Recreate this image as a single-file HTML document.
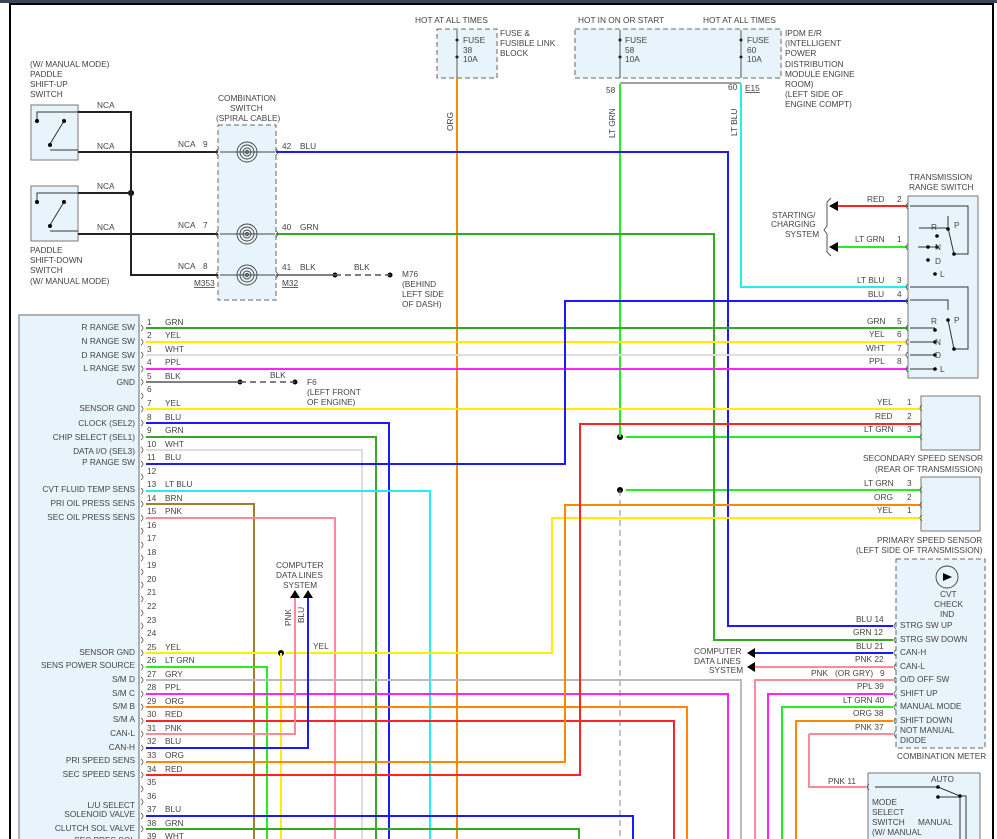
<!DOCTYPE html>
<html><head><meta charset="utf-8"><style>
html,body{margin:0;padding:0;background:#fff;}
svg{display:block;font-family:"Liberation Sans",sans-serif;}
text{font-size:8.3px;fill:#444;}
.w{fill:none;stroke-width:2;}
</style></head><body>
<svg width="997" height="839" viewBox="0 0 997 839">
<rect x="0" y="0" width="997" height="3" fill="#3a4658"/>
<path d="M10,839 V4 H993 V839" fill="none" stroke="#000" stroke-width="2"/>

<!-- boxes -->
<rect x="19" y="315" width="120" height="530" fill="#e8f4fb" stroke="#999" stroke-width="1.5"/>
<rect x="31" y="105" width="47" height="55" fill="#e8f4fb" stroke="#777"/>
<rect x="31" y="186" width="47" height="55" fill="#e8f4fb" stroke="#777"/>
<rect x="218" y="125" width="58" height="175" fill="#e8f4fb" stroke="#666" stroke-dasharray="5,3"/>
<rect x="437" y="29" width="60" height="49" fill="#e8f4fb" stroke="#666" stroke-dasharray="5,3"/>
<rect x="575" y="29" width="206" height="49" fill="#e8f4fb" stroke="#666" stroke-dasharray="5,3"/>
<rect x="908" y="196" width="70" height="182" fill="#e8f4fb" stroke="#777"/>
<rect x="921" y="396" width="59" height="54" fill="#e8f4fb" stroke="#777"/>
<rect x="921" y="477" width="59" height="54" fill="#e8f4fb" stroke="#777"/>
<rect x="896" y="559" width="89" height="189" fill="#e8f4fb" stroke="#666" stroke-dasharray="5,3"/>
<rect x="868" y="773" width="112" height="70" fill="#e8f4fb" stroke="#777"/>

<!-- switch internals -->
<g stroke="#333" fill="none" stroke-width="1">
<path d="M78,112 H37 V121"/><path d="M50,150 H78"/><path d="M50,144 L64,121"/>
<path d="M78,193 H37 V202"/><path d="M50,231 H78"/><path d="M50,225 L64,202"/>
<path d="M910,206 H968 V254 H954 M918,247 H928 M918,247 H937"/>
<path d="M919,228 H948 V216"/><path d="M948,228 L954,254"/>
<path d="M910,287 H968 V349 H954 M948,310 V300 H910"/><path d="M948,320 L954,349"/>
<path d="M910,328 H935 M910,342 H935 M910,355 H935 M910,369 H935"/>
<path d="M875,787 H938 L960,796 H966 V839 M938,797 H960 V839"/>
</g>
<g fill="#000">
<circle cx="37" cy="121" r="2"/><circle cx="64" cy="121" r="2"/><circle cx="50" cy="145" r="2"/>
<circle cx="37" cy="202" r="2"/><circle cx="64" cy="202" r="2"/><circle cx="50" cy="226" r="2"/>
<circle cx="937" cy="236" r="1.8"/><circle cx="948" cy="229" r="1.8"/><circle cx="928" cy="247" r="1.8"/><circle cx="937" cy="247" r="1.8"/><circle cx="954" cy="254" r="1.8"/><circle cx="928" cy="260" r="1.8"/><circle cx="935" cy="274" r="1.8"/>
<circle cx="935" cy="330" r="1.8"/><circle cx="948" cy="320" r="1.8"/><circle cx="935" cy="342" r="1.8"/><circle cx="935" cy="355" r="1.8"/><circle cx="935" cy="369" r="1.8"/><circle cx="954" cy="349" r="1.8"/>
<circle cx="938" cy="787" r="1.8"/><circle cx="960" cy="796" r="1.8"/><circle cx="938" cy="797" r="1.8"/>
<circle cx="131" cy="193" r="3"/>
<circle cx="281" cy="653" r="3"/>
<circle cx="620" cy="437" r="3"/><circle cx="620" cy="490" r="3"/>
<circle cx="240" cy="382" r="2.5"/><circle cx="295" cy="382" r="2.5"/>
<circle cx="335" cy="275" r="2.5"/><circle cx="390" cy="275" r="2.5"/>
<circle cx="457" cy="40" r="1.5"/><circle cx="457" cy="57" r="1.5"/>
<circle cx="620" cy="40" r="1.5"/><circle cx="620" cy="57" r="1.5"/>
<circle cx="741" cy="40" r="1.5"/><circle cx="741" cy="57" r="1.5"/>
</g>

<!-- spirals -->
<g fill="none" stroke="#444" stroke-width="0.9">
<circle cx="247" cy="152" r="10"/><circle cx="247" cy="152" r="7"/><circle cx="247" cy="152" r="4"/><circle cx="247" cy="152" r="1.5"/>
<circle cx="247" cy="234" r="10"/><circle cx="247" cy="234" r="7"/><circle cx="247" cy="234" r="4"/><circle cx="247" cy="234" r="1.5"/>
<circle cx="247" cy="275" r="10"/><circle cx="247" cy="275" r="7"/><circle cx="247" cy="275" r="4"/><circle cx="247" cy="275" r="1.5"/>
<path d="M220,152 H275 M220,234 H275 M220,275 H275"/>
<circle cx="947" cy="577" r="11"/>
<path d="M457,30 V78 M620,30 V78 M741,30 V78 M620,83 H741" />
</g>

<!-- black wires -->
<g class="w" stroke="#222">
<path d="M78,112 H131 V275 H218"/><path d="M78,152 H218"/><path d="M78,193 H131"/><path d="M78,234 H218"/>
</g>
<path d="M276,275 H335" stroke="#555" stroke-width="1.5"/>
<path d="M335,275 H390" stroke="#555" stroke-width="1.5" stroke-dasharray="6,4"/>
<path d="M146,382 H240" stroke="#555" stroke-width="1.5"/>
<path d="M240,382 H295" stroke="#555" stroke-width="1.5" stroke-dasharray="6,4"/>
<path d="M620,490 V839" stroke="#888" stroke-width="1" stroke-dasharray="6,4"/>

<!-- colored wires -->
<g class="w">
<path stroke="#ff8800" d="M457,78 V839"/>
<path stroke="#22ee22" d="M620,84 V437 M626,437 H921 M626,490 H921"/>
<path stroke="#22eeee" d="M741,84 V287 H908"/>
<path stroke="#1a1aff" d="M276,152 H728 V626 H893"/>
<path stroke="#33aa22" d="M276,234 H714 V640 H893"/>
<path stroke="#ff2222" d="M833,206 H908"/>
<path stroke="#22ee22" d="M833,247 H908"/>
<path stroke="#33aa22" d="M146,328 H908"/>
<path stroke="#ffee00" d="M146,342 H908"/>
<path stroke="#dddddd" d="M146,355 H908"/>
<path stroke="#ff22ff" d="M146,369 H908"/>
<path stroke="#ffee00" d="M146,409 H921"/>
<path stroke="#1a1aff" d="M146,423 H389 V839"/>
<path stroke="#33aa22" d="M146,437 H376 V839"/>
<path stroke="#dddddd" d="M146,450 H362 V839"/>
<path stroke="#1a1aff" d="M146,464 H565 V301 H908"/>
<path stroke="#22eeee" d="M146,491 H430 V839"/>
<path stroke="#a08030" d="M146,504 H254 V839"/>
<path stroke="#ff8899" d="M146,518 H335 V839"/>
<path stroke="#ffee00" d="M146,653 H277 M285,653 H552 V518 H921 M281,653 V839"/>
<path stroke="#22ee22" d="M146,667 H267 V839"/>
<path stroke="#bbbbbb" d="M146,680 H741 V839"/>
<path stroke="#ff22ff" d="M146,694 H728 V839"/>
<path stroke="#ff8800" d="M146,707 H687 V839"/>
<path stroke="#ff2222" d="M146,721 H674 V839"/>
<path stroke="#ff8899" d="M146,734 H295 V598"/>
<path stroke="#1a1aff" d="M146,748 H308 V598"/>
<path stroke="#ff8800" d="M146,762 H565 V505 H921"/>
<path stroke="#ff2222" d="M146,775 H580 V424 H921"/>
<path stroke="#1a1aff" d="M146,816 H633 V839"/>
<path stroke="#33aa22" d="M146,829 H579 V839"/>
<path stroke="#dddddd" d="M146,843 H600"/>
<path stroke="#1a1aff" d="M755,653 H893"/>
<path stroke="#ff8899" d="M755,667 H893"/>
<path stroke="#ff8899" d="M755,839 V680 H893"/>
<path stroke="#ff22ff" d="M768,839 V694 H893"/>
<path stroke="#22ee22" d="M782,839 V707 H893"/>
<path stroke="#ff8800" d="M796,839 V721 H893"/>
<path stroke="#ff8899" d="M809,734 H893 M809,734 V787 H866"/>
</g>
<!-- arrowheads -->
<g fill="#000">
<polygon points="290,598 300,598 295,590"/><polygon points="303,598 313,598 308,590"/>
<polygon points="747,653 755,648 755,658"/><polygon points="747,667 755,662 755,672"/>
<polygon points="829,206 838,201 838,211"/><polygon points="829,247 838,242 838,252"/>
<polygon points="943,573 952,577 943,581"/>
</g>
<path d="M831,198 l-4,4 V226 l-3,4 l3,4 V252 l4,4" fill="none" stroke="#555"/>

<!-- PCM connector marks -->
<g fill="none" stroke="#555" stroke-width="0.8">
<path d="M141,325 q4,3 0,6 M141,339 q4,3 0,6 M141,352 q4,3 0,6 M141,366 q4,3 0,6 M141,379 q4,3 0,6 M141,393 q4,3 0,6 M141,406 q4,3 0,6 M141,420 q4,3 0,6 M141,434 q4,3 0,6 M141,447 q4,3 0,6 M141,461 q4,3 0,6 M141,474 q4,3 0,6 M141,488 q4,3 0,6 M141,501 q4,3 0,6 M141,515 q4,3 0,6 M141,528 q4,3 0,6 M141,542 q4,3 0,6 M141,555 q4,3 0,6 M141,569 q4,3 0,6 M141,582 q4,3 0,6 M141,596 q4,3 0,6 M141,610 q4,3 0,6 M141,623 q4,3 0,6 M141,637 q4,3 0,6 M141,650 q4,3 0,6 M141,664 q4,3 0,6 M141,677 q4,3 0,6 M141,691 q4,3 0,6 M141,704 q4,3 0,6 M141,718 q4,3 0,6 M141,731 q4,3 0,6 M141,745 q4,3 0,6 M141,759 q4,3 0,6 M141,772 q4,3 0,6 M141,786 q4,3 0,6 M141,799 q4,3 0,6 M141,813 q4,3 0,6 M141,826 q4,3 0,6"/>
<path d="M908,203 q-4,3 0,6 M908,244 q-4,3 0,6 M908,284 q-4,3 0,6 M908,298 q-4,3 0,6 M908,325 q-4,3 0,6 M908,339 q-4,3 0,6 M908,352 q-4,3 0,6 M908,366 q-4,3 0,6"/>
<path d="M922,405 q-4,3 0,6 M922,421 q-4,3 0,6 M922,434 q-4,3 0,6 M922,487 q-4,3 0,6 M922,502 q-4,3 0,6 M922,515 q-4,3 0,6"/>
<path d="M896,623 q-4,3 0,6 M896,637 q-4,3 0,6 M896,650 q-4,3 0,6 M896,664 q-4,3 0,6 M896,677 q-4,3 0,6 M896,691 q-4,3 0,6 M896,704 q-4,3 0,6 M896,718 q-4,3 0,6 M896,731 q-4,3 0,6 M869,784 q-4,3 0,6"/>
<path d="M218,149 q-4,3 0,6 M218,231 q-4,3 0,6 M218,272 q-4,3 0,6 M276,149 q4,3 0,6 M276,231 q4,3 0,6 M276,272 q4,3 0,6"/>
</g>

<!-- Text: top-left -->
<text x="30" y="67">(W/ MANUAL MODE)</text><text x="30" y="77">PADDLE</text><text x="30" y="87">SHIFT-UP</text><text x="30" y="97">SWITCH</text>
<text x="30" y="253">PADDLE</text><text x="30" y="263">SHIFT-DOWN</text><text x="30" y="273">SWITCH</text><text x="30" y="284">(W/ MANUAL MODE)</text>
<text x="97" y="108">NCA</text><text x="97" y="149">NCA</text><text x="97" y="189">NCA</text><text x="97" y="230">NCA</text>
<text x="178" y="147">NCA</text><text x="203" y="147">9</text>
<text x="178" y="228">NCA</text><text x="203" y="228">7</text>
<text x="178" y="269">NCA</text><text x="203" y="269">8</text>
<text x="194" y="286" text-decoration="underline">M353</text>
<text x="282" y="286" text-decoration="underline">M32</text>
<text x="282" y="149">42</text><text x="300" y="149">BLU</text>
<text x="282" y="230">40</text><text x="300" y="230">GRN</text>
<text x="282" y="270">41</text><text x="300" y="270">BLK</text><text x="354" y="270">BLK</text>
<text x="402" y="277">M76</text><text x="402" y="287">(BEHIND</text><text x="402" y="297">LEFT SIDE</text><text x="402" y="307">OF DASH)</text>
<text x="218" y="101">COMBINATION</text><text x="230" y="111">SWITCH</text><text x="216" y="121">(SPIRAL CABLE)</text>
<text x="415" y="23">HOT AT ALL TIMES</text>
<text x="463" y="43">FUSE</text><text x="463" y="53">38</text><text x="463" y="62">10A</text>
<text x="500" y="36">FUSE &amp;</text><text x="500" y="46">FUSIBLE LINK</text><text x="500" y="56">BLOCK</text>
<text x="578" y="23">HOT IN ON OR START</text><text x="703" y="23">HOT AT ALL TIMES</text>
<text x="625" y="43">FUSE</text><text x="625" y="53">58</text><text x="625" y="62">10A</text>
<text x="747" y="43">FUSE</text><text x="747" y="53">60</text><text x="747" y="62">10A</text>
<text x="785" y="36">IPDM E/R</text><text x="785" y="46">(INTELLIGENT</text><text x="785" y="56">POWER</text><text x="785" y="67">DISTRIBUTION</text><text x="785" y="77">MODULE ENGINE</text><text x="785" y="87">ROOM)</text><text x="785" y="97">(LEFT SIDE OF</text><text x="785" y="107">ENGINE COMPT)</text>
<text x="606" y="93">58</text><text x="728" y="90">60</text><text x="745" y="91" text-decoration="underline">E15</text>
<text transform="translate(453,131) rotate(-90)">ORG</text>
<text transform="translate(615,138) rotate(-90)">LT GRN</text>
<text transform="translate(737,136) rotate(-90)">LT BLU</text>

<!-- right texts -->
<text x="909" y="180">TRANSMISSION</text><text x="909" y="190">RANGE SWITCH</text>
<text x="772" y="218">STARTING/</text><text x="771" y="227">CHARGING</text><text x="785" y="237">SYSTEM</text>
<text x="867" y="202">RED</text><text x="897" y="202">2</text>
<text x="855" y="242">LT GRN</text><text x="897" y="242">1</text>
<text x="857" y="283">LT BLU</text><text x="897" y="283">3</text>
<text x="868" y="297">BLU</text><text x="897" y="297">4</text>
<text x="867" y="324">GRN</text><text x="897" y="324">5</text>
<text x="869" y="337">YEL</text><text x="897" y="337">6</text>
<text x="866" y="351">WHT</text><text x="897" y="351">7</text>
<text x="869" y="364">PPL</text><text x="897" y="364">8</text>
<text x="931" y="230">R</text><text x="954" y="228">P</text><text x="935" y="250">N</text><text x="935" y="264">D</text><text x="940" y="277">L</text>
<text x="931" y="324">R</text><text x="954" y="323">P</text><text x="935" y="345">N</text><text x="935" y="358">D</text><text x="940" y="372">L</text>
<text x="877" y="405">YEL</text><text x="907" y="405">1</text>
<text x="875" y="419">RED</text><text x="907" y="419">2</text>
<text x="864" y="432">LT GRN</text><text x="907" y="432">3</text>
<text x="863" y="461">SECONDARY SPEED SENSOR</text><text x="875" y="472">(REAR OF TRANSMISSION)</text>
<text x="864" y="486">LT GRN</text><text x="907" y="486">3</text>
<text x="874" y="500">ORG</text><text x="907" y="500">2</text>
<text x="877" y="513">YEL</text><text x="907" y="513">1</text>
<text x="877" y="543">PRIMARY SPEED SENSOR</text><text x="856" y="553">(LEFT SIDE OF TRANSMISSION)</text>
<text x="940" y="597">CVT</text><text x="934" y="607">CHECK</text><text x="940" y="617">IND</text>
<text x="900" y="628">STRG SW UP</text><text x="900" y="642">STRG SW DOWN</text><text x="900" y="655">CAN-H</text><text x="900" y="669">CAN-L</text><text x="900" y="682">O/D OFF SW</text><text x="900" y="696">SHIFT UP</text><text x="900" y="709">MANUAL MODE</text><text x="900" y="723">SHIFT DOWN</text><text x="900" y="733">NOT MANUAL</text><text x="900" y="743">DIODE</text>
<text x="897" y="759">COMBINATION METER</text>
<text x="856" y="622">BLU  14</text><text x="853" y="635">GRN  12</text><text x="856" y="649">BLU  21</text><text x="855" y="662">PNK  22</text>
<text x="811" y="676">PNK</text><text x="835" y="676">(OR GRY)</text><text x="880" y="676">9</text>
<text x="857" y="689">PPL  39</text><text x="843" y="703">LT GRN  40</text><text x="853" y="716">ORG  38</text><text x="855" y="730">PNK  37</text>
<text x="694" y="654">COMPUTER</text><text x="694" y="664">DATA LINES</text><text x="709" y="673">SYSTEM</text>
<text x="828" y="784">PNK  11</text>
<text x="931" y="782">AUTO</text><text x="872" y="805">MODE</text><text x="872" y="815">SELECT</text><text x="872" y="825">SWITCH</text><text x="918" y="825">MANUAL</text><text x="872" y="835">(W/ MANUAL</text>

<!-- middle -->
<text x="276" y="568">COMPUTER</text><text x="276" y="578">DATA LINES</text><text x="283" y="588">SYSTEM</text>
<text transform="translate(291,626) rotate(-90)">PNK</text><text transform="translate(304,623) rotate(-90)">BLU</text>
<text x="313" y="649">YEL</text>
<text x="270" y="378">BLK</text>
<text x="307" y="385">F6</text><text x="307" y="395">(LEFT FRONT</text><text x="307" y="405">OF ENGINE)</text>

<!-- PCM labels -->
<g text-anchor="end">
<text x="135" y="330">R RANGE SW</text><text x="135" y="344">N RANGE SW</text><text x="135" y="358">D RANGE SW</text><text x="135" y="371">L RANGE SW</text><text x="135" y="385">GND</text>
<text x="135" y="411">SENSOR GND</text><text x="135" y="426">CLOCK (SEL2)</text><text x="135" y="440">CHIP SELECT (SEL1)</text><text x="135" y="454">DATA I/O (SEL3)</text><text x="135" y="465">P RANGE SW</text>
<text x="135" y="492">CVT FLUID TEMP SENS</text><text x="135" y="506">PRI OIL PRESS SENS</text><text x="135" y="520">SEC OIL PRESS SENS</text>
<text x="135" y="655">SENSOR GND</text><text x="135" y="668">SENS POWER SOURCE</text><text x="135" y="682">S/M D</text><text x="135" y="696">S/M C</text><text x="135" y="709">S/M B</text><text x="135" y="722">S/M A</text><text x="135" y="736">CAN-L</text><text x="135" y="750">CAN-H</text><text x="135" y="763">PRI SPEED SENS</text><text x="135" y="777">SEC SPEED SENS</text>
<text x="135" y="808">L/U SELECT</text><text x="135" y="817">SOLENOID VALVE</text><text x="135" y="831">CLUTCH SOL VALVE</text><text x="135" y="843">SEC PRES SOL</text>
</g>
<g>
<text x="147" y="325">1</text><text x="147" y="338">2</text><text x="147" y="352">3</text><text x="147" y="365">4</text><text x="147" y="379">5</text><text x="147" y="392">6</text><text x="147" y="406">7</text><text x="147" y="420">8</text><text x="147" y="433">9</text><text x="147" y="447">10</text><text x="147" y="460">11</text><text x="147" y="474">12</text><text x="147" y="487">13</text><text x="147" y="501">14</text><text x="147" y="514">15</text><text x="147" y="528">16</text><text x="147" y="541">17</text><text x="147" y="555">18</text><text x="147" y="568">19</text><text x="147" y="582">20</text><text x="147" y="595">21</text><text x="147" y="609">22</text><text x="147" y="623">23</text><text x="147" y="636">24</text><text x="147" y="650">25</text><text x="147" y="663">26</text><text x="147" y="677">27</text><text x="147" y="690">28</text><text x="147" y="704">29</text><text x="147" y="717">30</text><text x="147" y="731">31</text><text x="147" y="744">32</text><text x="147" y="758">33</text><text x="147" y="772">34</text><text x="147" y="785">35</text><text x="147" y="799">36</text><text x="147" y="812">37</text><text x="147" y="826">38</text><text x="147" y="839">39</text>
<text x="165" y="325">GRN</text><text x="165" y="338">YEL</text><text x="165" y="352">WHT</text><text x="165" y="365">PPL</text><text x="165" y="379">BLK</text><text x="165" y="406">YEL</text><text x="165" y="420">BLU</text><text x="165" y="433">GRN</text><text x="165" y="447">WHT</text><text x="165" y="460">BLU</text><text x="165" y="487">LT BLU</text><text x="165" y="501">BRN</text><text x="165" y="514">PNK</text>
<text x="165" y="650">YEL</text><text x="165" y="663">LT GRN</text><text x="165" y="677">GRY</text><text x="165" y="690">PPL</text><text x="165" y="704">ORG</text><text x="165" y="717">RED</text><text x="165" y="731">PNK</text><text x="165" y="744">BLU</text><text x="165" y="758">ORG</text><text x="165" y="772">RED</text><text x="165" y="812">BLU</text><text x="165" y="826">GRN</text><text x="165" y="839">WHT</text>
</g>
</svg>
</body></html>
